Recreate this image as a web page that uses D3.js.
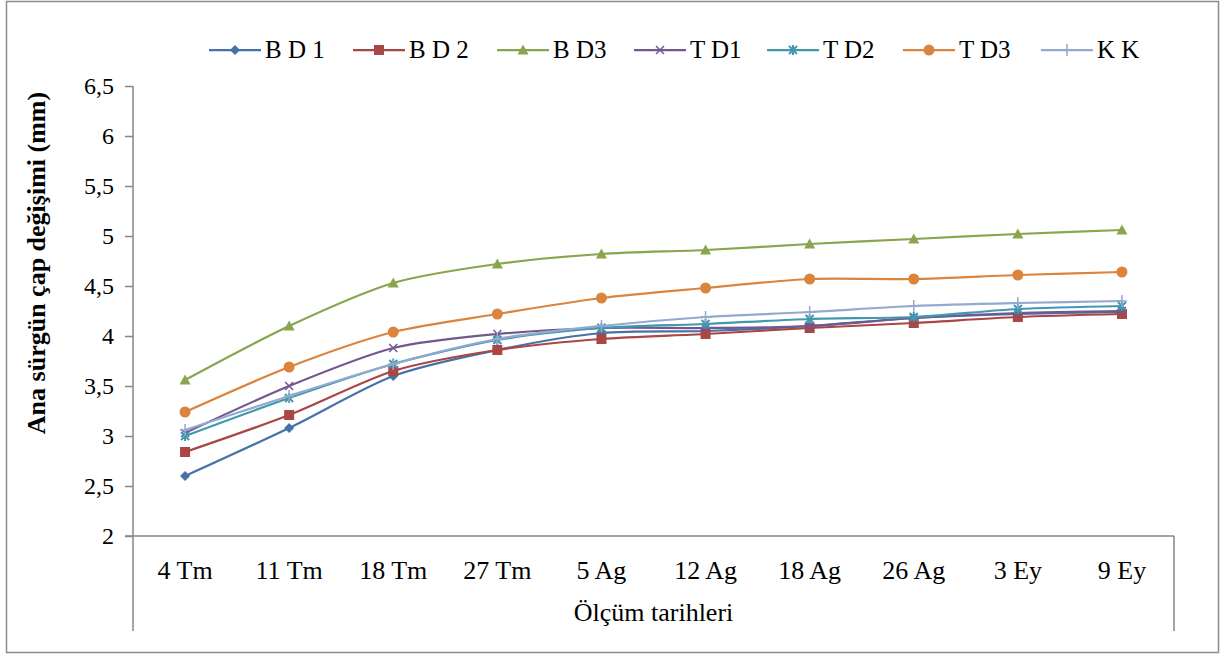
<!DOCTYPE html>
<html>
<head>
<meta charset="utf-8">
<script src="https://cdn.jsdelivr.net/npm/d3@7"></script>
<style>
  html, body { margin: 0; padding: 0; background: #fff; }
  svg { display: block; }
  text { font-family: "Liberation Serif", "Times New Roman", serif; fill: #000; }
</style>
</head>
<body>
<svg id="chart" width="1225" height="657"></svg>
<script>
// Measurement dates (x categories)
const dates = ["4 Tm", "11 Tm", "18 Tm", "27 Tm", "5 Ag", "12 Ag", "18 Ag", "26 Ag", "3 Ey", "9 Ey"];

// Main shoot diameter change (mm) per treatment
const bd1 = [2.60, 3.08, 3.60, 3.86, 4.03, 4.05, 4.10, 4.18, 4.22, 4.24];
const bd2 = [2.84, 3.21, 3.65, 3.86, 3.97, 4.02, 4.08, 4.13, 4.19, 4.22];
const bd3 = [3.56, 4.10, 4.53, 4.72, 4.82, 4.86, 4.92, 4.97, 5.02, 5.06];
const td1 = [3.03, 3.50, 3.88, 4.02, 4.08, 4.08, 4.10, 4.18, 4.23, 4.25];
const td2 = [3.00, 3.38, 3.72, 3.96, 4.08, 4.12, 4.17, 4.19, 4.27, 4.30];
const td3 = [3.24, 3.69, 4.04, 4.22, 4.38, 4.48, 4.57, 4.57, 4.61, 4.64];
const kk  = [3.06, 3.40, 3.72, 3.97, 4.10, 4.19, 4.24, 4.30, 4.33, 4.35];

const seriesNames = ["B D 1", "B D 2", "B D3", "T D1", "T D2", "T D3", "K K"];
const yTicks = [2, 2.5, 3, 3.5, 4, 4.5, 5, 5.5, 6, 6.5];

const series = [
  { name: seriesNames[0], values: bd1, color: "#4572A7", marker: "diamond" },
  { name: seriesNames[1], values: bd2, color: "#AA4643", marker: "square" },
  { name: seriesNames[2], values: bd3, color: "#89A54E", marker: "triangle" },
  { name: seriesNames[3], values: td1, color: "#71588F", marker: "x" },
  { name: seriesNames[4], values: td2, color: "#4198AF", marker: "asterisk" },
  { name: seriesNames[5], values: td3, color: "#DB843D", marker: "circle" },
  { name: seriesNames[6], values: kk,  color: "#93A9CF", marker: "plus" }
];

const svg = d3.select("#chart");
const axisColor = "#868686";

// Outer chart border
svg.append("rect")
  .attr("x", 6.5).attr("y", 1.5).attr("width", 1212).attr("height", 651)
  .attr("fill", "#fff").attr("stroke", "#8c8c8c").attr("stroke-width", 1.5);

const plot = { left: 133, right: 1174, top: 86, bottom: 536 };

const x = d3.scaleBand().domain(dates).range([plot.left, plot.right]);
const y = d3.scaleLinear().domain([2, 6.5]).range([plot.bottom, plot.top]);
const cx = d => x(d) + x.bandwidth() / 2;

// Y axis
const yAxis = svg.append("g")
  .attr("transform", `translate(${plot.left},0)`)
  .call(d3.axisLeft(y).tickValues(yTicks).tickSize(8).tickPadding(11)
    .tickFormat(d => String(d).replace(".", ",")));
yAxis.select(".domain").remove();
yAxis.selectAll(".tick line").attr("stroke", axisColor).attr("stroke-width", 1.5);
yAxis.selectAll(".tick text")
  .attr("font-family", "Liberation Serif").attr("font-size", 24).attr("fill", "#000")
  .attr("dy", "0.33em");

// Axis frame lines: y axis extends down through the category label area
svg.append("line").attr("x1", plot.left).attr("x2", plot.left)
  .attr("y1", plot.top).attr("y2", 631)
  .attr("stroke", axisColor).attr("stroke-width", 1.5);
svg.append("line").attr("x1", plot.left - 8).attr("x2", plot.right)
  .attr("y1", plot.bottom).attr("y2", plot.bottom)
  .attr("stroke", axisColor).attr("stroke-width", 1.5);
svg.append("line").attr("x1", plot.right).attr("x2", plot.right)
  .attr("y1", plot.bottom).attr("y2", 631)
  .attr("stroke", axisColor).attr("stroke-width", 1.5);

// X category labels
const xAxis = svg.append("g")
  .attr("transform", `translate(0,${plot.bottom})`)
  .call(d3.axisBottom(x).tickSize(0).tickPadding(0));
xAxis.select(".domain").remove();
xAxis.selectAll(".tick text")
  .attr("font-family", "Liberation Serif").attr("font-size", 26).attr("fill", "#000")
  .attr("y", 43).attr("dy", 0);

// Axis titles
svg.append("text")
  .attr("x", (plot.left + plot.right) / 2).attr("y", 621)
  .attr("text-anchor", "middle").attr("font-size", 26)
  .text("Ölçüm tarihleri");

svg.append("text")
  .attr("transform", "translate(45,263) rotate(-90)")
  .attr("text-anchor", "middle").attr("font-size", 26).attr("font-weight", "bold")
  .text("Ana sürgün çap değişimi (mm)");

// Marker drawing
function drawMarker(g, type, color) {
  const s = 5;
  switch (type) {
    case "diamond":
      g.append("path").attr("d", `M0,${-s}L${s},0L0,${s}L${-s},0Z`).attr("fill", color);
      break;
    case "square":
      g.append("rect").attr("x", -5).attr("y", -5).attr("width", 10).attr("height", 10).attr("fill", color);
      break;
    case "triangle":
      g.append("path").attr("d", `M0,-5.5L5.5,4.5L-5.5,4.5Z`).attr("fill", color);
      break;
    case "circle":
      g.append("circle").attr("r", 5.5).attr("fill", color);
      break;
    case "x":
      g.append("path").attr("d", `M-4,-4L4,4M-4,4L4,-4`).attr("stroke", color).attr("stroke-width", 1.5).attr("fill", "none");
      break;
    case "asterisk":
      g.append("path").attr("d", `M-4,-4L4,4M-4,4L4,-4M0,-5L0,5`).attr("stroke", color).attr("stroke-width", 2).attr("fill", "none");
      break;
    case "plus":
      g.append("path").attr("d", `M0,-6L0,6M-5,0L5,0`).attr("stroke", color).attr("stroke-width", 1.5).attr("fill", "none");
      break;
  }
}

// Smoothed series lines
const line = d3.line()
  .x((d, i) => cx(dates[i]))
  .y(d => y(d))
  .curve(d3.curveCardinal.tension(0.2));

const gSeries = svg.append("g");
series.forEach(s => {
  const g = gSeries.append("g");
  g.append("path").datum(s.values)
    .attr("d", line)
    .attr("fill", "none").attr("stroke", s.color).attr("stroke-width", 2.25);
  s.values.forEach((v, i) => {
    const m = g.append("g").attr("transform", `translate(${cx(dates[i])},${y(v)})`);
    drawMarker(m, s.marker, s.color);
  });
});

// Legend
const legendX = [209, 353, 497, 634, 767, 903, 1041];
const legend = svg.append("g").attr("transform", "translate(0,50)");
series.forEach((s, i) => {
  const g = legend.append("g").attr("transform", `translate(${legendX[i]},0)`);
  g.append("line").attr("x1", 0).attr("x2", 52).attr("y1", 0).attr("y2", 0)
    .attr("stroke", s.color).attr("stroke-width", 2.25);
  const m = g.append("g").attr("transform", "translate(26,0)");
  drawMarker(m, s.marker, s.color);
  g.append("text").attr("x", 56).attr("y", 8)
    .attr("font-size", 25).text(s.name);
});
</script>
</body>
</html>
